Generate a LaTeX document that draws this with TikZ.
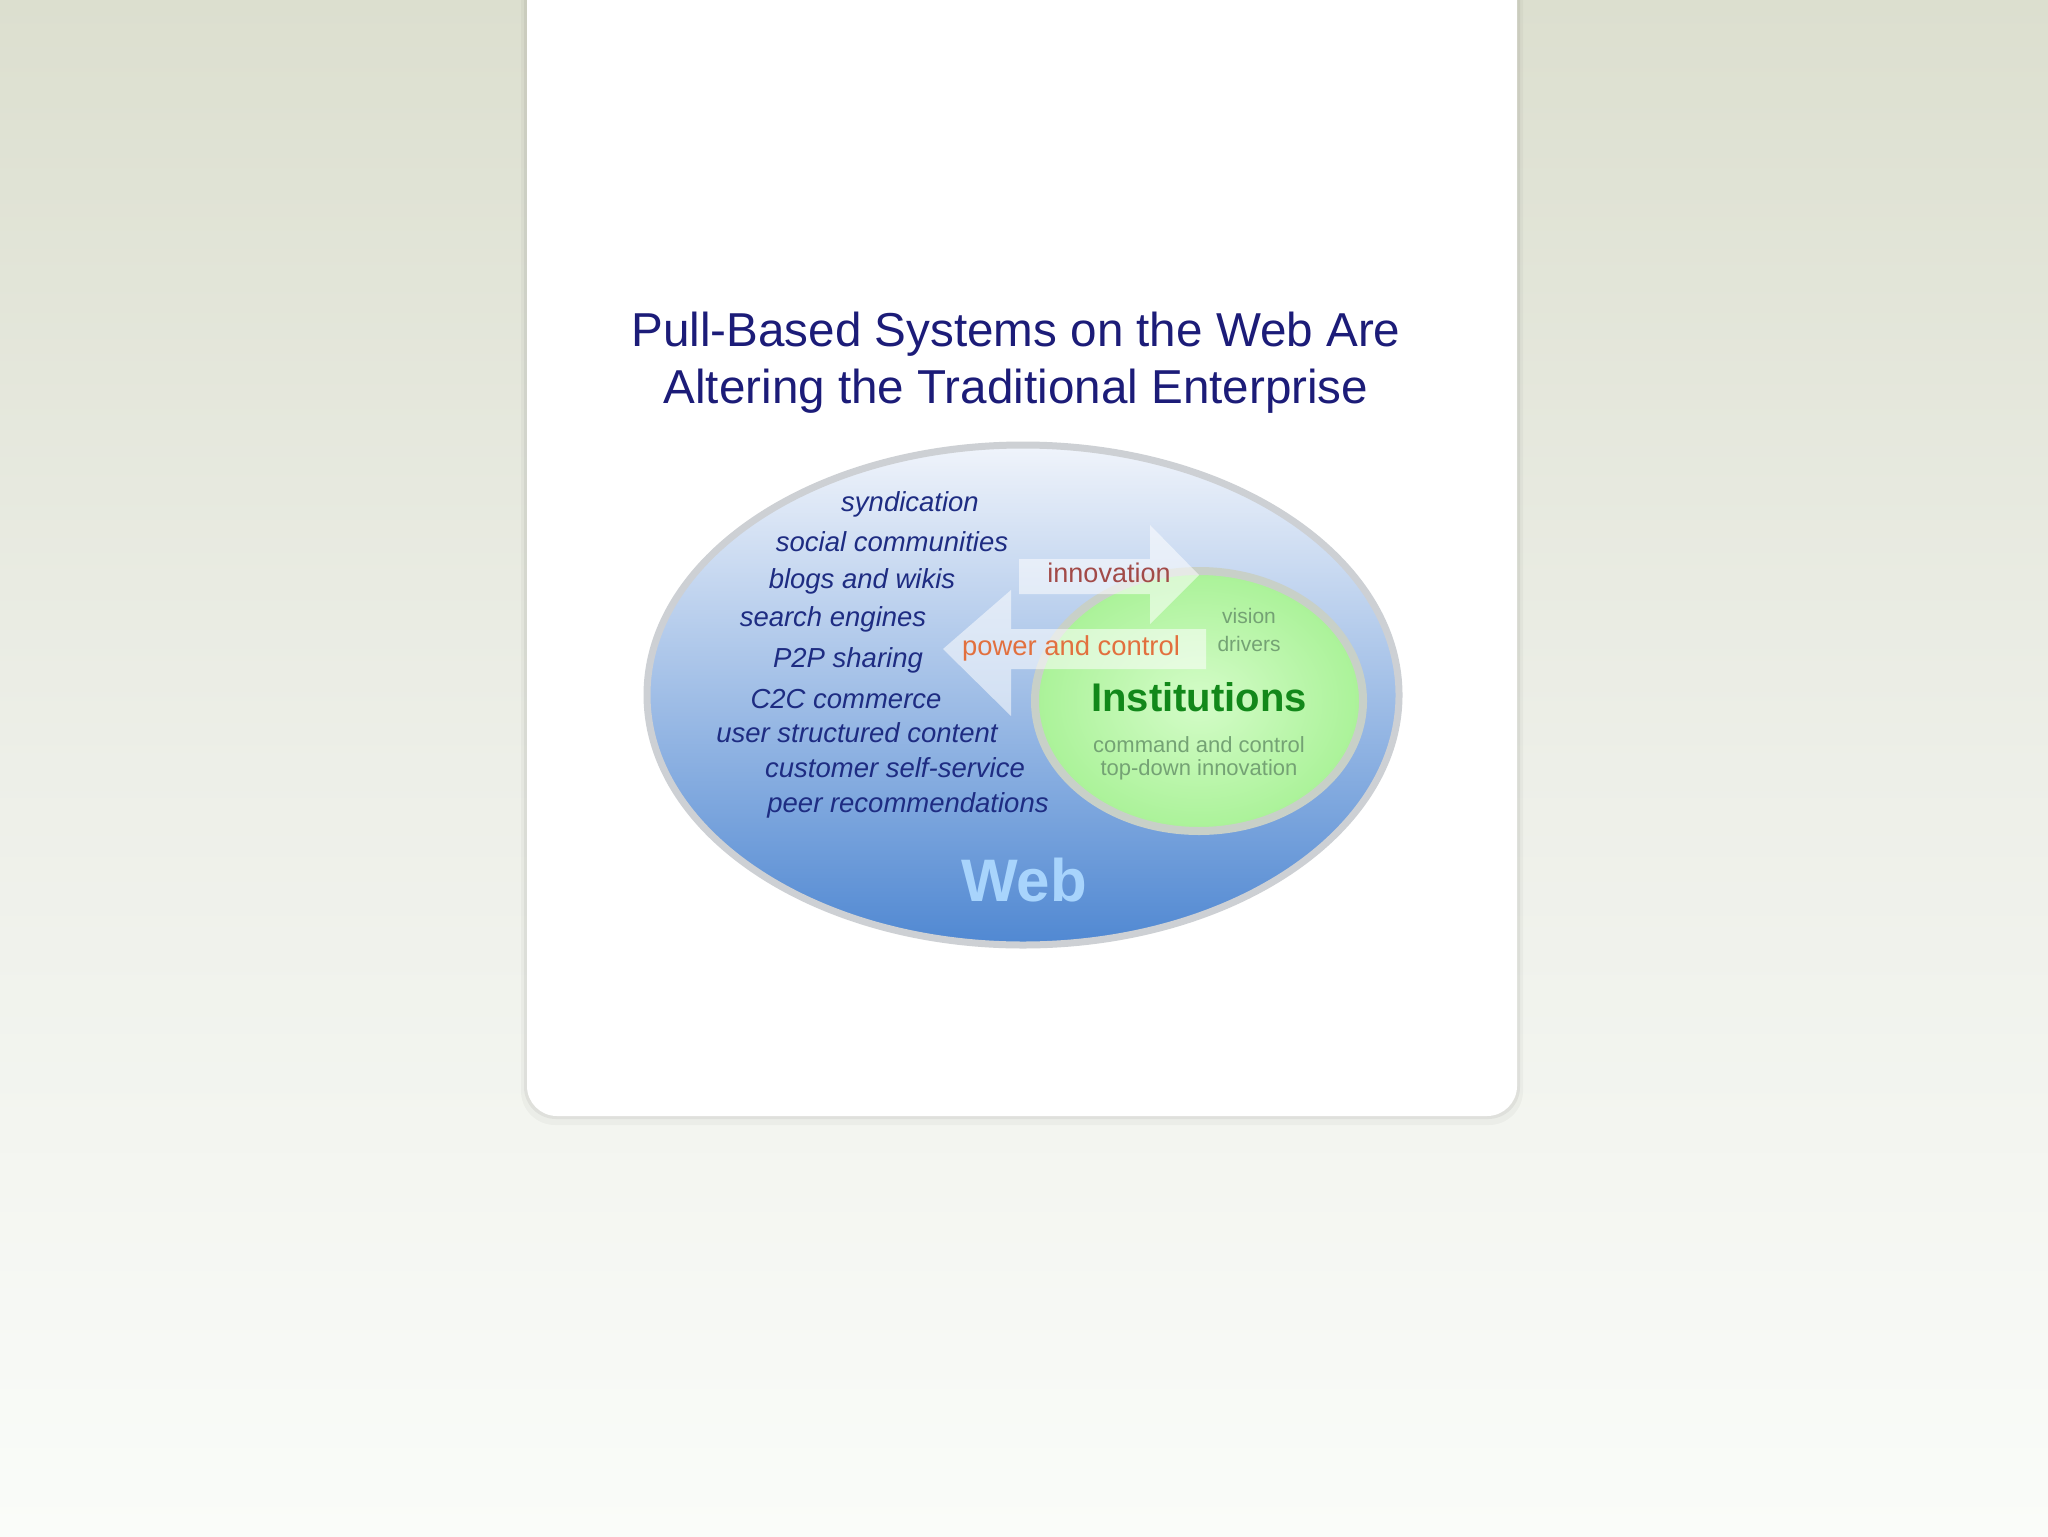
\documentclass[tikz,border=0pt]{standalone}
\usepackage{fontspec}
\setmainfont{Liberation Sans}
\usetikzlibrary{positioning}
\definecolor{bgtop}{HTML}{DCDFCF}
\definecolor{bgmid}{HTML}{EDEFE8}
\definecolor{bgbot}{HTML}{FAFCF9}
\definecolor{navy}{HTML}{1C1C78}
\definecolor{itemblue}{HTML}{1E2C82}
\definecolor{webtop}{HTML}{F0F4FB}
\definecolor{webmid}{HTML}{AAC2E8}
\definecolor{webbot}{HTML}{5088D2}
\definecolor{webrim}{HTML}{CDD0D4}
\definecolor{instin}{HTML}{D4FCC8}
\definecolor{instout}{HTML}{AAF298}
\definecolor{instrim}{HTML}{C8D0C8}
\definecolor{instgreen}{HTML}{12881A}
\definecolor{softgreen}{HTML}{74A274}
\definecolor{innored}{HTML}{A24A48}
\definecolor{powerorange}{HTML}{E2703E}
\definecolor{weblabel}{HTML}{A8D4FC}
\begin{document}
\begin{tikzpicture}[x=0.5pt, y=-0.5pt,
		item/.style={font=\fontsize{13.75}{16}\selectfont\itshape, text=itemblue, inner sep=0pt},
		small/.style={font=\fontsize{11}{13}\selectfont, text=softgreen, inner sep=0pt},
		flow/.style={white, opacity=0.55}]
	\useasboundingbox (0, 0) rectangle (2048, 1536);
	% background and card
	\shade[top color=bgtop, bottom color=bgbot, middle color=bgmid] (0, 0) rectangle (2048, 1536);
	\fill[black, opacity=0.03, rounded corners=17pt] (521, -40) rectangle (1523, 1125);
	\fill[black, opacity=0.05, rounded corners=16pt] (524, -40) rectangle (1520, 1119);
	\fill[white, rounded corners=15pt] (527, -40) rectangle (1517, 1116);
	% title
	\node[font=\fontsize{23.8}{28.5}\selectfont, text=navy, align=center] (title) at (1016, 363)
		{Pull-Based Systems on the Web Are\\Altering the Traditional Enterprise};
	% the web
	\shadedraw[top color=webtop, middle color=webmid, bottom color=webbot, draw=webrim, line width=3.5pt]
		(1023, 695) ellipse (376 and 250);
	% the institutions
	\shadedraw[inner color=instin, outer color=instout, draw=instrim, line width=4pt]
		(1199, 701) ellipse (164 and 130);
	% the two arrows
	\fill[flow] (1019, 559) -- (1150, 559) -- (1150, 525) -- (1199, 575)
		-- (1150, 624) -- (1150, 594) -- (1019, 594) -- cycle;
	\fill[flow] (943, 649) -- (1011, 590) -- (1011, 629) -- (1206, 629)
		-- (1206, 669) -- (1011, 669) -- (1011, 716) -- cycle;
	% what the web offers
	\node[item] (synd)     at (910, 504) {syndication};
	\node[item] (social)   at (892, 542) {social communities};
	\node[item] (blogs)    at (862, 581) {blogs and wikis};
	\node[item] (search)   at (833, 619) {search engines};
	\node[item] (ptp)      at (848, 660) {P2P sharing};
	\node[item] (ctc)      at (846, 699) {C2C commerce};
	\node[item] (usc)      at (857, 733) {user structured content};
	\node[item] (selfserv) at (895, 768) {customer self-service};
	\node[item] (peer)     at (908, 805) {peer recommendations};
	% labels
	\node[font=\fontsize{13.5}{16}\selectfont, text=innored, inner sep=0pt] (inno) at (1109, 573) {innovation};
	\node[font=\fontsize{13.7}{16}\selectfont, text=powerorange, inner sep=0pt] (power) at (1071, 648) {power and control};
	\node[small, font=\fontsize{10.5}{12}\selectfont] (vision)  at (1249, 616) {vision};
	\node[small, font=\fontsize{10.5}{12}\selectfont] (drivers) at (1249, 644) {drivers};
	\node[font=\fontsize{20}{24}\selectfont\bfseries, text=instgreen, inner sep=0pt] (inst) at (1199, 697) {Institutions};
	\node[small] (command) at (1199, 745) {command and control};
	\node[small] (topdown) at (1199, 770) {top-down innovation};
	\node[font=\fontsize{30}{36}\selectfont\bfseries, text=weblabel, inner sep=0pt] (web) at (1024, 880) {Web};
\end{tikzpicture}
\end{document}
